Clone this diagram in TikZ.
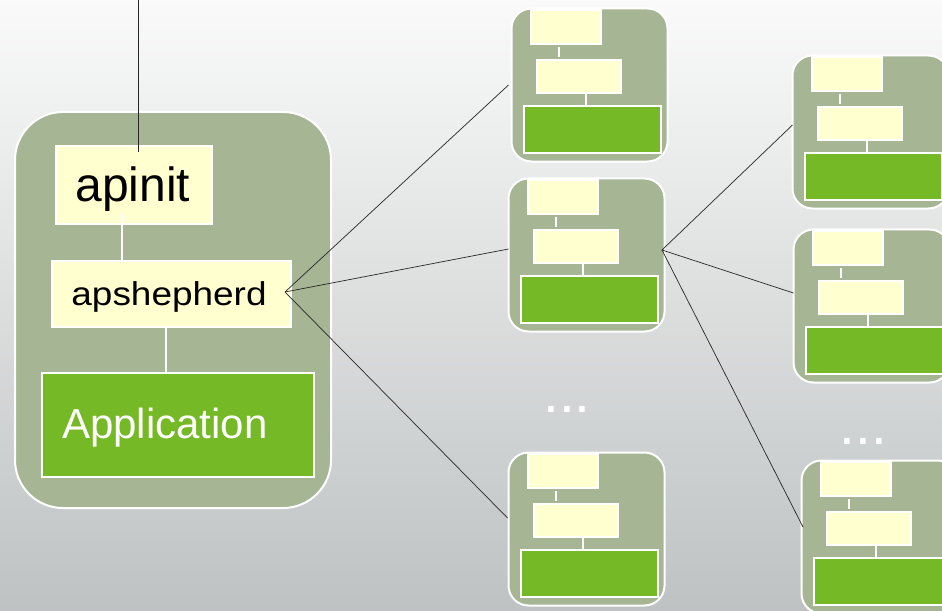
\documentclass[tikz,border=0pt]{standalone}
\usepackage{fontspec}
\usepackage{graphicx}
\setmainfont{Liberation Sans}
\usetikzlibrary{calc}

\definecolor{sage}{RGB}{166,181,147}
\definecolor{cream}{RGB}{255,255,208}
\definecolor{leaf}{RGB}{118,185,38}
\definecolor{bgtop}{RGB}{250,250,250}
\definecolor{bgmid}{RGB}{238,239,239}
\definecolor{bgbot}{RGB}{190,194,194}

\tikzset{
  panel/.style={fill=sage, draw=white, line width=2bp, rounded corners=#1,
    inner sep=0pt, outer sep=0pt, anchor=north west},
  panel/.default=20bp,
  tier/.style={fill=cream, draw=white, line width=1.5bp, inner sep=0pt,
    outer sep=0pt, anchor=north west},
  appbox/.style={fill=leaf, draw=white, line width=1.5bp, inner sep=0pt,
    outer sep=0pt, anchor=north west},
  wire/.style={draw=white, line width=2.2bp},
  link/.style={draw=black!85, line width=0.7bp},
  lbl/.style={inner sep=0pt, outer sep=0pt, anchor=base west},
  more/.style={inner sep=0pt, outer sep=0pt, anchor=base, text=white,
    font=\fontsize{57bp}{60bp}\selectfont},
}

% A small process: rounded panel with two stacked tiers and an application box.
% #1 = name, (#2,#3) = top-left corner of the upper tier
\newcommand\procmodule[3]{%
  \node[panel, minimum width=156bp, minimum height=153bp] (#1) at (#2-19.5,#3-1.5) {};
  \node[tier, minimum width=70bp, minimum height=34bp] (#1-a) at (#2,#3) {};
  \node[tier, minimum width=84bp, minimum height=33bp] (#1-b) at (#2+6,#3+50) {};
  \node[appbox, minimum width=137bp, minimum height=47bp] (#1-c) at (#2-7,#3+96) {};
  \draw[wire] ($(#1-a.south west)+(28,3)$) -- ($(#1-a.south west)+(28,13)$);
  \draw[wire] ($(#1-b.south west)+(49,0)$) -- ($(#1-c.north west)+(62,0)$);
}

\begin{document}
\begin{tikzpicture}[x=1bp, y=-1bp]
  \useasboundingbox (0,0) rectangle (942,611);
  \shade[top color=bgtop, middle color=bgmid, bottom color=bgbot] (0,0) rectangle (942,611);

  % main process
  \node[panel=48bp, minimum width=316bp, minimum height=396bp] (main) at (15,112) {};
  \node[tier, minimum width=156bp, minimum height=78bp] (apinit) at (56,146) {};
  \node[tier, minimum width=239bp, minimum height=66bp] (shep) at (52,261) {};
  \node[appbox, minimum width=272bp, minimum height=104bp] (app) at (42,373) {};
  \draw[wire] ($(apinit.south west)+(66,-11)$) -- ($(shep.north west)+(70,0)$);
  \draw[wire] ($(shep.south west)+(114,0)$) -- ($(app.north west)+(124,0)$);

  \node[lbl, font=\fontsize{48bp}{52bp}\selectfont] (apinit-t) at (75.6,201.7) {apinit};
  \node[lbl] (shep-t) at (71.4,305.7) {\scalebox{1.12}[1]{\fontsize{33bp}{36bp}\selectfont apshepherd}};
  \node[lbl, text=white, font=\fontsize{42bp}{46bp}\selectfont] (app-t) at (62,438.3) {Application};

  % child processes
  \procmodule{ca}{531}{10}
  \procmodule{cb}{528}{180}
  \procmodule{cc}{528}{454}
  % grandchild processes
  \procmodule{ga}{812}{57}
  \procmodule{gb}{813}{231}
  \procmodule{gc}{821}{462}

  \node[more] (dots1) at (567,412.5) {...};
  \node[more] (dots2) at (863.5,444.5) {...};

  % connectors
  \coordinate (feed) at (138,0);
  \draw[link, line width=1bp] (feed) -- ($(apinit.north west)+(82,6)$);

  \coordinate (hub1) at ($(shep.east)+(-6,-2)$);
  \draw[link] (hub1) -- ($(ca.west)+(-3,0)$);
  \draw[link] (hub1) -- ($(cb.west)+(0,-6)$);
  \draw[link] (hub1) -- ($(cc.west)+(-1,-11)$);

  \coordinate (hub2) at ($(cb.east)+(-2.5,-5)$);
  \draw[link] (hub2) -- ($(ga.west)+(0,-7)$);
  \draw[link] (hub2) -- ($(gb.west)+(0,-13)$);
  \draw[link] (hub2) -- ($(gc.west)+(1.5,-10)$);
\end{tikzpicture}
\end{document}
